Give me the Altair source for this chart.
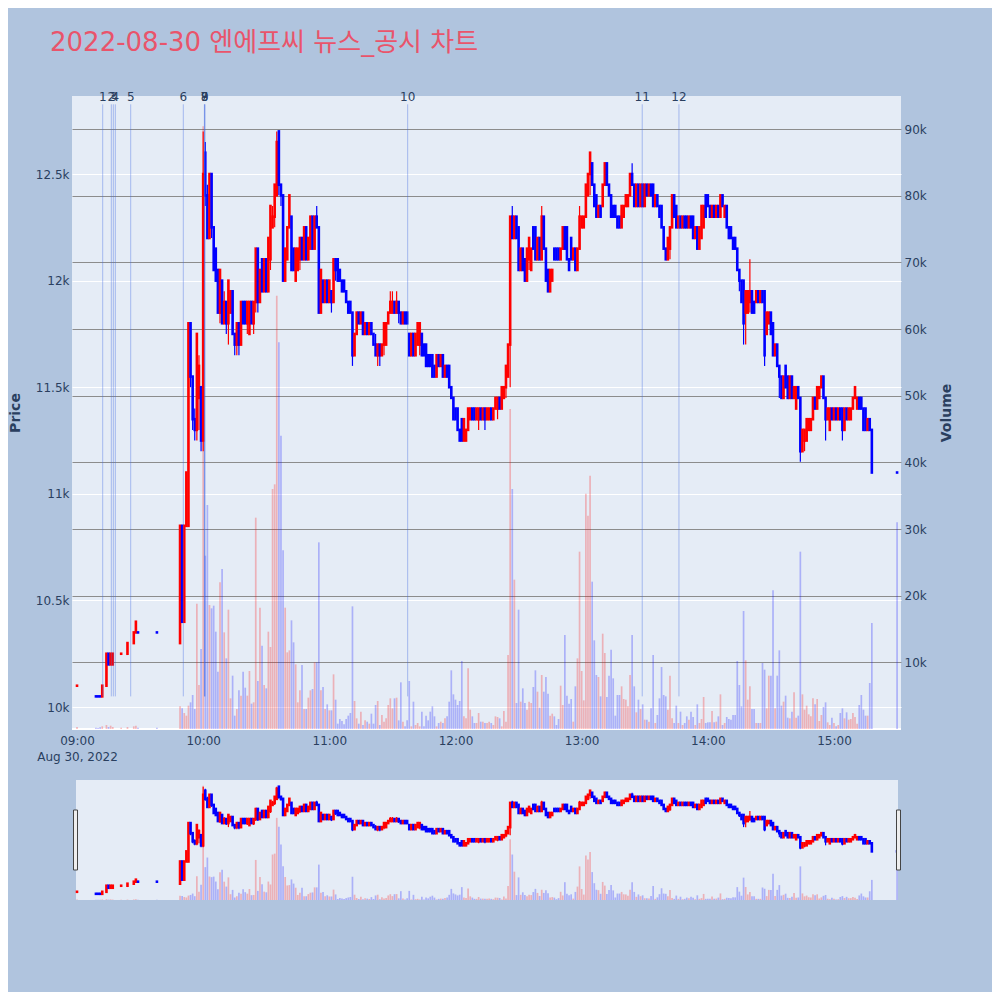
import altair as alt
import pandas as pd

DAY = "2022-08-30"
TITLE = "2022-08-30 엔에프씨 뉴스_공시 차트"

# ---------------- data ----------------
early_times = ["09:00", "09:09", "09:10", "09:11", "09:12", "09:14", "09:15", "09:16",
               "09:17", "09:21", "09:24", "09:27", "09:28", "09:29", "09:38"]
# regular one-minute bars 09:49 .. 15:18, then the 15:30 closing auction
session_times = [f"{9 + (49 + i) // 60:02d}:{(49 + i) % 60:02d}" for i in range(330)]
times = early_times + session_times + ["15:30"]

opens = [
    10100, 10050, 10050, 10050, 10050, 10100, 10250, 10200, 10200, 10250, 10250, 10300, 10350, 10350, 10350,
    10300, 10850, 10400, 10850, 10850, 11800, 11550, 11350, 11300, 11450,
    11500, 11250, 12600, 12400, 12200, 12500, 12250, 12150, 12050, 11850,
    12000, 11800, 11900, 11800, 11850, 11950, 11750, 11700, 11800, 11700,
    11900, 11900, 11800, 11750, 11900, 11800, 11900, 12150, 11900, 12100,
    11950, 12100, 11950, 12100, 12250, 12300, 12400, 12700, 12450, 12400,
    12000, 12100, 12250, 12300, 12150, 12000, 12050, 12100, 12200, 12100,
    12250, 12100, 12150, 12300, 12150, 12300, 12250, 11850, 12000, 11900,
    12000, 11900, 11950, 11900, 12100, 12100, 12050, 12000, 12000, 11950,
    11900, 11900, 11850, 11650, 11750, 11850, 11800, 11850, 11750, 11800,
    11750, 11800, 11750, 11700, 11650, 11700, 11650, 11700, 11700, 11800,
    11850, 11850, 11900, 11850, 11900, 11850, 11800, 11850, 11850, 11750,
    11650, 11750, 11650, 11700, 11700, 11750, 11700, 11700, 11650, 11650,
    11650, 11600, 11550, 11650, 11600, 11650, 11550, 11600, 11600, 11500,
    11450, 11400, 11400, 11300, 11350, 11250, 11250, 11300, 11350, 11400,
    11400, 11350, 11350, 11400, 11350, 11400, 11350, 11350, 11400, 11350,
    11400, 11400, 11450, 11400, 11450, 11500, 11550, 11700, 12300, 12200,
    12300, 12250, 12050, 12150, 12100, 12000, 12100, 12050, 12250, 12250,
    12100, 12200, 12100, 12300, 12150, 12050, 11950, 12000, 12150, 12150,
    12150, 12100, 12150, 12250, 12250, 12100, 12200, 12100, 12150, 12050,
    12150, 12250, 12250, 12300, 12400, 12500, 12550, 12450, 12400, 12300,
    12350, 12350, 12450, 12550, 12450, 12400, 12350, 12350, 12300, 12300,
    12250, 12300, 12350, 12350, 12400, 12500, 12450, 12350, 12450, 12350,
    12450, 12350, 12450, 12400, 12450, 12450, 12350, 12400, 12350, 12350,
    12250, 12150, 12100, 12150, 12250, 12400, 12350, 12250, 12300, 12250,
    12300, 12300, 12250, 12300, 12300, 12200, 12250, 12150, 12200, 12250,
    12400, 12400, 12350, 12300, 12350, 12300, 12350, 12300, 12400, 12300,
    12350, 12250, 12250, 12200, 12200, 12150, 12050, 12000, 12000, 11850,
    11850, 11900, 11950, 11900, 11900, 11950, 11900, 11950, 11950, 11750,
    11800, 11850, 11800, 11650, 11700, 11600, 11550, 11450, 11600, 11550,
    11450, 11550, 11450, 11400, 11500, 11450, 11200, 11250, 11250, 11300,
    11300, 11350, 11450, 11400, 11450, 11500, 11550, 11450, 11350, 11300,
    11400, 11350, 11400, 11350, 11400, 11400, 11300, 11400, 11350, 11350,
    11400, 11450, 11400, 11450, 11450, 11400, 11400, 11300, 11350, 11300,
    11100,
]
closes = [
    10100, 10050, 10050, 10050, 10100, 10250, 10200, 10250, 10250, 10250, 10300, 10350, 10400, 10350, 10350,
    10850, 10400, 10850, 11100, 11800, 11550, 11350, 11300, 11750, 11600,
    11250, 12500, 12400, 12200, 12500, 12250, 12050, 12000, 11850, 12050,
    11800, 11900, 11800, 12000, 11950, 11750, 11700, 11800, 11700, 11900,
    11800, 11800, 11900, 11900, 11800, 11900, 12150, 11900, 12050, 11950,
    12100, 11950, 12200, 12350, 12300, 12450, 12650, 12450, 12400, 12000,
    12150, 12250, 12400, 12050, 12050, 12150, 12150, 12200, 12100, 12250,
    12100, 12200, 12300, 12150, 12300, 12250, 11850, 12050, 11900, 12000,
    11900, 12000, 11900, 12100, 12050, 12000, 12000, 11950, 11950, 11900,
    11850, 11850, 11650, 11750, 11850, 11800, 11850, 11750, 11800, 11750,
    11800, 11750, 11700, 11650, 11700, 11650, 11700, 11800, 11800, 11850,
    11900, 11900, 11850, 11900, 11850, 11800, 11850, 11800, 11800, 11650,
    11750, 11650, 11750, 11800, 11800, 11650, 11650, 11600, 11600, 11600,
    11550, 11550, 11650, 11600, 11650, 11550, 11600, 11550, 11500, 11450,
    11350, 11350, 11300, 11250, 11250, 11350, 11300, 11400, 11400, 11350,
    11350, 11400, 11400, 11350, 11400, 11350, 11400, 11400, 11350, 11400,
    11450, 11450, 11400, 11500, 11500, 11600, 11700, 12300, 12200, 12300,
    12200, 12050, 12150, 12050, 12000, 12150, 12200, 12150, 12150, 12100,
    12200, 12100, 12300, 12150, 12000, 11950, 12050, 12050, 12100, 12100,
    12100, 12150, 12250, 12150, 12100, 12050, 12100, 12150, 12050, 12150,
    12300, 12300, 12300, 12450, 12500, 12600, 12450, 12350, 12300, 12350,
    12300, 12450, 12550, 12450, 12400, 12300, 12300, 12300, 12250, 12250,
    12350, 12350, 12400, 12400, 12500, 12450, 12350, 12450, 12350, 12450,
    12350, 12450, 12400, 12450, 12400, 12350, 12400, 12350, 12300, 12250,
    12150, 12100, 12200, 12250, 12400, 12300, 12250, 12300, 12250, 12300,
    12250, 12250, 12300, 12250, 12200, 12250, 12150, 12250, 12350, 12350,
    12300, 12350, 12300, 12350, 12300, 12350, 12300, 12400, 12350, 12350,
    12250, 12200, 12200, 12150, 12150, 12050, 12000, 11900, 11800, 11950,
    11950, 11950, 11850, 11850, 11950, 11900, 11950, 11900, 11650, 11850,
    11850, 11750, 11650, 11700, 11600, 11550, 11450, 11550, 11500, 11450,
    11550, 11450, 11500, 11500, 11450, 11200, 11300, 11300, 11350, 11350,
    11350, 11450, 11400, 11500, 11500, 11550, 11450, 11350, 11400, 11400,
    11350, 11400, 11350, 11400, 11350, 11300, 11400, 11350, 11400, 11400,
    11450, 11500, 11450, 11400, 11400, 11300, 11300, 11350, 11300, 11100,
    11100,
]
highs = [
    10100, 10050, 10050, 10050, 10100, 10250, 10250, 10250, 10250, 10250, 10300, 10350, 10400, 10350, 10350,
    10850, 10850, 10850, 11100, 11800, 11800, 11550, 11400, 11750, 11650,
    11500, 12700, 12650, 12450, 12500, 12500, 12250, 12150, 12050, 12050,
    12000, 11950, 11900, 12000, 11950, 11950, 11750, 11800, 11800, 11900,
    11900, 11900, 11900, 11900, 11900, 11900, 12150, 12150, 12050, 12100,
    12100, 12100, 12200, 12350, 12350, 12450, 12700, 12700, 12450, 12400,
    12150, 12250, 12400, 12300, 12150, 12150, 12150, 12200, 12200, 12250,
    12250, 12200, 12300, 12300, 12300, 12350, 12250, 12050, 12000, 12000,
    12000, 12000, 11950, 12100, 12100, 12100, 12050, 12000, 12000, 11950,
    11900, 11900, 11850, 11750, 11850, 11850, 11850, 11850, 11800, 11800,
    11800, 11800, 11750, 11750, 11700, 11700, 11700, 11800, 11800, 11850,
    11950, 11950, 11900, 11950, 11900, 11850, 11850, 11850, 11850, 11750,
    11750, 11750, 11750, 11800, 11800, 11750, 11700, 11700, 11650, 11650,
    11650, 11600, 11650, 11650, 11650, 11650, 11600, 11600, 11600, 11500,
    11450, 11400, 11400, 11300, 11350, 11350, 11300, 11400, 11400, 11400,
    11400, 11400, 11400, 11400, 11400, 11400, 11400, 11400, 11400, 11400,
    11450, 11450, 11450, 11500, 11500, 11600, 11700, 12300, 12350, 12300,
    12300, 12250, 12150, 12150, 12100, 12150, 12200, 12150, 12250, 12250,
    12200, 12200, 12350, 12300, 12150, 12050, 12050, 12050, 12150, 12150,
    12150, 12150, 12250, 12250, 12250, 12100, 12200, 12150, 12150, 12150,
    12350, 12300, 12300, 12450, 12500, 12600, 12550, 12450, 12400, 12350,
    12350, 12450, 12550, 12550, 12450, 12400, 12350, 12350, 12300, 12300,
    12350, 12350, 12400, 12400, 12500, 12550, 12450, 12450, 12450, 12450,
    12450, 12450, 12450, 12450, 12450, 12450, 12400, 12400, 12350, 12350,
    12250, 12150, 12200, 12250, 12400, 12400, 12350, 12300, 12300, 12300,
    12300, 12300, 12300, 12300, 12300, 12250, 12250, 12250, 12350, 12350,
    12400, 12400, 12350, 12350, 12350, 12350, 12350, 12400, 12400, 12350,
    12350, 12250, 12250, 12200, 12200, 12150, 12050, 12000, 12000, 11950,
    11950, 12100, 11950, 11900, 11950, 11950, 11950, 11950, 11950, 11850,
    11850, 11850, 11800, 11700, 11700, 11600, 11550, 11550, 11600, 11550,
    11550, 11550, 11500, 11500, 11500, 11450, 11300, 11300, 11350, 11350,
    11350, 11450, 11450, 11500, 11500, 11550, 11550, 11450, 11400, 11400,
    11400, 11400, 11400, 11400, 11400, 11400, 11400, 11400, 11400, 11400,
    11450, 11500, 11450, 11450, 11450, 11400, 11400, 11350, 11350, 11300,
    11100,
]
lows = [
    10100, 10050, 10050, 10050, 10050, 10100, 10200, 10200, 10200, 10250, 10250, 10300, 10350, 10350, 10350,
    10300, 10400, 10400, 10850, 10850, 11500, 11300, 11250, 11250, 11300,
    11200, 11200, 12350, 12200, 12200, 12200, 12050, 12000, 11850, 11800,
    11800, 11800, 11750, 11700, 11850, 11750, 11650, 11650, 11650, 11700,
    11800, 11800, 11750, 11750, 11800, 11750, 11850, 11850, 11900, 11950,
    11950, 11950, 11950, 12050, 12250, 12250, 12400, 12400, 12350, 12000,
    12000, 12100, 12250, 12050, 12050, 12000, 12050, 12050, 12100, 12100,
    12100, 12100, 12150, 12150, 12150, 12250, 11850, 11850, 11900, 11900,
    11900, 11900, 11850, 11900, 12000, 12000, 12000, 11950, 11950, 11900,
    11850, 11850, 11600, 11650, 11750, 11800, 11800, 11750, 11750, 11750,
    11750, 11750, 11700, 11650, 11600, 11600, 11650, 11650, 11700, 11800,
    11850, 11850, 11850, 11850, 11800, 11800, 11800, 11800, 11800, 11650,
    11650, 11650, 11650, 11700, 11650, 11650, 11650, 11600, 11600, 11600,
    11550, 11550, 11550, 11600, 11600, 11550, 11550, 11550, 11500, 11450,
    11350, 11350, 11300, 11250, 11250, 11250, 11250, 11300, 11350, 11350,
    11350, 11350, 11300, 11350, 11350, 11300, 11350, 11350, 11350, 11350,
    11400, 11350, 11400, 11400, 11450, 11450, 11550, 11500, 12200, 12200,
    12200, 12050, 12050, 12050, 12000, 12000, 12050, 12050, 12150, 12100,
    12100, 12100, 12100, 12150, 12000, 11950, 11950, 12000, 12100, 12100,
    12100, 12100, 12150, 12150, 12100, 12050, 12100, 12100, 12050, 12050,
    12150, 12250, 12250, 12300, 12400, 12400, 12450, 12350, 12300, 12300,
    12300, 12350, 12450, 12450, 12400, 12300, 12300, 12300, 12250, 12250,
    12250, 12300, 12350, 12350, 12400, 12450, 12350, 12350, 12350, 12350,
    12350, 12350, 12400, 12400, 12400, 12350, 12350, 12350, 12300, 12250,
    12150, 12100, 12100, 12100, 12250, 12300, 12250, 12250, 12250, 12250,
    12250, 12250, 12250, 12250, 12200, 12200, 12150, 12150, 12200, 12250,
    12300, 12350, 12300, 12300, 12300, 12300, 12300, 12300, 12350, 12300,
    12250, 12200, 12200, 12150, 12150, 12050, 11950, 11900, 11700, 11700,
    11850, 11850, 11850, 11850, 11900, 11900, 11900, 11900, 11600, 11750,
    11800, 11750, 11650, 11650, 11600, 11450, 11450, 11450, 11500, 11450,
    11450, 11450, 11450, 11400, 11450, 11150, 11200, 11200, 11250, 11300,
    11300, 11350, 11400, 11400, 11450, 11500, 11450, 11250, 11350, 11300,
    11350, 11350, 11350, 11350, 11350, 11250, 11300, 11350, 11350, 11350,
    11400, 11450, 11400, 11400, 11400, 11300, 11300, 11300, 11300, 11100,
    11100,
]
volumes = [
    300, 200, 150, 250, 400, 600, 300, 500, 300, 200, 300, 400, 500, 200, 200,
    3400, 3100, 2400, 2000, 3500, 4000, 5100, 3000, 18800, 6600,
    12000, 90400, 26000, 33600, 18600, 18100, 18500, 14600, 8600, 22000,
    24000, 14500, 10600, 17900, 4600, 8000, 2000, 3000, 5800, 5000,
    8600, 6200, 5000, 8700, 3800, 4000, 31700, 7200, 18200, 12500,
    6600, 6100, 14600, 12300, 36000, 36700, 65000, 58000, 44000, 26800,
    18200, 11500, 11800, 16300, 13000, 9700, 4000, 5800, 9600, 3000,
    3000, 4700, 5800, 6000, 10000, 10000, 28000, 5800, 6300, 3000,
    3700, 2800, 2800, 8200, 4400, 800, 1500, 1200, 700, 1500,
    2000, 2400, 18400, 4200, 1600, 800, 2600, 600, 1300, 1100,
    800, 2300, 800, 3600, 4200, 600, 2100, 1100, 1600, 3600,
    4600, 3100, 4600, 4700, 1300, 7000, 1100, 400, 1300, 7200,
    400, 4100, 600, 900, 400, 2600, 400, 2000, 1300, 2600,
    3400, 1900, 400, 900, 1100, 900, 1600, 1900, 4100, 8800,
    5200, 4400, 3600, 4200, 10200, 1900, 1600, 9100, 2900, 1900,
    900, 900, 2400, 1100, 1100, 900, 900, 1100, 900, 600,
    1900, 1800, 1600, 400, 2700, 1100, 11100, 48000, 36000, 22400,
    3900, 17900, 4100, 6100, 3900, 2900, 4100, 3900, 6300, 8800,
    5600, 3200, 8100, 5600, 7800, 5300, 2000, 2300, 1900, 600,
    1500, 6500, 3600, 14100, 5000, 3800, 4500, 1100, 6400, 10600,
    26600, 8700, 4300, 35300, 32000, 38000, 22100, 13300, 8100, 7800,
    4900, 14300, 11400, 4800, 8000, 11900, 7600, 2000, 5100, 5100,
    6400, 4500, 4400, 3400, 8100, 14100, 6400, 2500, 4400, 3000,
    3700, 1400, 1400, 1100, 3100, 11100, 900, 2100, 4600, 9300,
    5100, 4900, 2900, 8000, 1600, 900, 3500, 900, 2600, 600,
    900, 1900, 1400, 2600, 1800, 600, 3700, 900, 1500, 4800,
    900, 1000, 1000, 2700, 1000, 1100, 1900, 5200, 600, 900,
    1800, 1500, 1400, 2100, 2100, 10200, 6600, 3400, 17700, 10300,
    4400, 6400, 3000, 3000, 900, 900, 900, 9900, 8900, 3100,
    8000, 8000, 20800, 3100, 8000, 11800, 3500, 4100, 5000, 1700,
    1600, 2600, 5500, 1700, 2000, 26600, 5200, 2900, 3500, 2200,
    1900, 4600, 3700, 4500, 1200, 2100, 3300, 4000, 1000, 600,
    1700, 900, 400, 600, 2400, 3100, 1600, 2500, 1400, 1500,
    2400, 1800, 800, 3600, 5100, 2900, 2000, 2000, 6900, 15900,
    31000,
]

event_labels = ["1", "2", "3", "4", "5", "6", "7", "8", "9", "10", "11", "12"]
event_times = ["09:12:13", "09:16:19", "09:17:16", "09:18:13", "09:25:32", "09:50:33",
               "10:00:35", "10:00:43", "10:00:50", "11:37:15", "13:28:48", "13:46:16"]

n = len(times)
assert all(len(a) == n for a in (opens, closes, highs, lows, volumes)), [len(a) for a in (times, opens, closes, highs, lows, volumes)]

# candle direction (plotly style: ties follow the previous close / previous direction)
dirs = []
prev_c, prev_d = None, "up"
for o, c in zip(opens, closes):
    if c > o:
        d = "up"
    elif c < o:
        d = "down"
    elif prev_c is None or c > prev_c:
        d = "up"
    elif c < prev_c:
        d = "down"
    else:
        d = prev_d
    dirs.append(d)
    prev_c, prev_d = c, d

df = pd.DataFrame({
    "t": [f"{DAY}T{t}:00" for t in times],
    "open": opens, "close": closes, "high": highs, "low": lows,
    "volume": volumes, "dir": dirs,
})
ev = pd.DataFrame({"t": [f"{DAY}T{t}" for t in event_times], "label": event_labels})
one = pd.DataFrame({"k": [0]})

# ---------------- chart ----------------
W, H = 829, 633
FONT = "DejaVu Sans"
INK = "#2a3f5f"

def dt(h, m=0, s=0):
    return alt.DateTime(year=2022, month=8, date=30, hours=h, minutes=m, seconds=s)

xscale = alt.Scale(domain=[dt(8, 57, 37), dt(15, 31, 52)], padding=0)
xaxis = alt.Axis(
    values=[dt(h) for h in range(9, 16)],
    labelExpr="hours(datum.value) == 9 ? ['09:00', 'Aug 30, 2022'] : timeFormat(datum.value, '%H:%M')",
    domain=False, ticks=False, grid=False, labelPadding=6, labelLineHeight=16,
    labelFlush=False, labelOverlap=False, title=None,
)
X = alt.X("t:T", scale=xscale, axis=xaxis)

PMIN, PMAX = 9897, 12866
VMAX = 94950
price_scale = alt.Scale(domain=[PMIN, PMAX], nice=False, zero=False)
vol_scale = alt.Scale(domain=[0, VMAX], nice=False)
sl_price_scale = alt.Scale(domain=[PMIN, PMAX], nice=False, zero=False, range=[804, 684])
sl_vol_scale = alt.Scale(domain=[0, VMAX], nice=False, range=[804, 684])

price_axis = alt.Axis(
    orient="left", title="Price", values=[10000, 10500, 11000, 11500, 12000, 12500],
    format="~s", grid=True, gridColor="white", gridWidth=1, domain=False, ticks=False,
    labelPadding=3, titleX=-57, titleY=H / 2, titleAngle=270,
    titleAlign="center", titleBaseline="middle",
)
vol_axis = alt.Axis(
    orient="right", title="Volume", values=[i * 10000 for i in range(1, 10)],
    format="~s", grid=True, gridColor="#8c8c8c", gridWidth=1, domain=False, ticks=False,
    labelPadding=3, titleX=45, titleY=H / 2, titleAngle=270,
    titleAlign="center", titleBaseline="middle",
)

color = alt.Color("dir:N", scale=alt.Scale(domain=["up", "down"], range=["#ff0000", "#0000ff"]), legend=None)

base = alt.Chart(df)

# background pieces (pixel positioned)
slider_bg = alt.Chart(one).mark_rect(color="#E5ECF6").encode(
    x=alt.value(4), x2=alt.value(826), y=alt.value(684), y2=alt.value(804))
zero_line = alt.Chart(one).mark_rule(color="white", strokeWidth=2).encode(
    x=alt.value(0), x2=alt.value(W), y=alt.value(H))
title_txt = alt.Chart(one).mark_text(
    align="left", baseline="alphabetic", fontSize=26, color="#E9546B",
    font="DejaVu Sans, Noto Sans CJK KR").encode(
    x=alt.value(-22), y=alt.value(-45), text=alt.value(TITLE))
bg_layer = alt.layer(slider_bg, zero_line, title_txt)

# main volume bars
vol_layer = base.mark_bar(size=1.7, opacity=0.25).encode(
    x=X, y=alt.Y("volume:Q", scale=vol_scale, axis=vol_axis), y2=alt.datum(0), color=color)

# main candles + news markers
wick = base.mark_rule(strokeWidth=1.2).encode(
    x=X, y=alt.Y("low:Q", scale=price_scale, axis=price_axis), y2="high:Q", color=color)
body = base.mark_rule(strokeWidth=2.6, strokeCap="square").encode(
    x=X, y=alt.Y("open:Q", scale=price_scale, axis=price_axis), y2="close:Q", color=color)
ev_rule = alt.Chart(ev).mark_rule(color="royalblue", opacity=0.4, strokeWidth=1).encode(
    x=X, y=alt.datum(10050), y2=alt.datum(12827))
ev_text = alt.Chart(ev).mark_text(fontSize=12, color=INK, baseline="middle", font=FONT).encode(
    x=X, y=alt.value(1), text="label:N")
price_layer = alt.layer(wick, body, ev_rule, ev_text)

# range slider contents
sl_vol = base.mark_bar(size=1.7, opacity=0.25).encode(
    x=X, y=alt.Y("volume:Q", scale=sl_vol_scale, axis=None), y2=alt.datum(0), color=color)
sl_wick = base.mark_rule(strokeWidth=1.2).encode(
    x=X, y=alt.Y("low:Q", scale=sl_price_scale, axis=None), y2="high:Q", color=color)
sl_body = base.mark_rule(strokeWidth=2.6, strokeCap="square").encode(
    x=X, y=alt.Y("open:Q", scale=sl_price_scale, axis=None), y2="close:Q", color=color)
sl_price = alt.layer(sl_wick, sl_body)

handle_l = alt.Chart(one).mark_rect(fill="#eeeeee", stroke="#444444", strokeWidth=1).encode(
    x=alt.value(1.5), x2=alt.value(5.5), y=alt.value(714), y2=alt.value(774))
handle_r = alt.Chart(one).mark_rect(fill="#eeeeee", stroke="#444444", strokeWidth=1).encode(
    x=alt.value(824.5), x2=alt.value(828.5), y=alt.value(714), y2=alt.value(774))
handles = alt.layer(handle_l, handle_r)

chart = alt.layer(
    bg_layer, vol_layer, price_layer, sl_vol, sl_price, handles
).resolve_scale(
    y="independent"
).properties(
    width=W, height=H,
    autosize=alt.AutoSizeParams(type="none"),
    padding={"left": 64, "top": 88, "right": 91, "bottom": 263},
    background="#B0C4DE",
).configure(
    font=FONT,
).configure_view(
    fill="#E5ECF6", strokeWidth=0,
).configure_axis(
    labelFont=FONT, labelFontSize=12, labelColor=INK,
    titleFont=FONT, titleFontSize=14, titleColor=INK, titleFontWeight="bold",
)

chart.save("out.html", embed_options={"renderer": "svg", "actions": False})
